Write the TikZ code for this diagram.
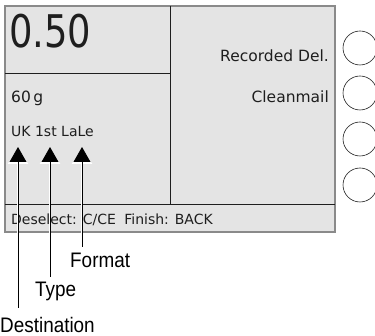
\documentclass[tikz,border=0pt]{standalone}
\usepackage{fontspec}
\setmainfont{DejaVu Sans}
\newfontfamily\labelfont[FakeStretch=0.9]{Liberation Sans}
\usetikzlibrary{arrows.meta,positioning}
\definecolor{panel}{HTML}{E4E4E4}
\definecolor{frame}{HTML}{8A8A8A}
\definecolor{ink}{HTML}{1E1E1E}

\begin{document}
\begin{tikzpicture}[
  x=1pt, y=-1pt,
  every node/.style={inner sep=0pt, text=ink},
  divider/.style={draw=ink, line width=0.9pt},
  key/.style={draw=ink, circle, line width=0.6pt, minimum size=34pt},
  display/.style={font=\fontsize{15.5}{18}\selectfont},
  callout/.style={font=\labelfont\fontsize{21}{24}\selectfont, text=black},
  pointer/.style={-{Triangle[width=17pt,length=15pt]}, line width=0.8pt,
    preaction={draw=white, line width=2.6pt, -{Triangle[width=20pt,length=17pt]}}}
]
  \useasboundingbox (0,0) rectangle (375,336);
  % display panel
  \filldraw[fill=panel, draw=frame, line width=1.4pt] (5,6) rectangle (335,232);
  \draw[divider] (170,6) -- (170,204);
  \draw[divider] (5,73) -- (170,73);
  \draw[divider] (5,204) -- (335,204);
  \node[anchor=base west, font=\fontsize{45}{48}\selectfont] (price) at (9,48)
    {\scalebox{0.82}[1]{0.50}};
  \node[display, anchor=base east] (recorded) at (329,62) {Recorded Del.};
  \node[display, anchor=base east] (clean) at (329,103) {Cleanmail};
  \node[display, anchor=base west] (weight) at (11,103) {60\,g};
  \node[anchor=base west, font=\fontsize{14}{17}\selectfont] (service) at (11,137) {UK 1st LaLe};
  \node[anchor=base west, font=\fontsize{14}{17}\selectfont] (status) at (11,225)
    {Deselect: C/CE\hspace{0.6em}Finish: BACK};
  % soft keys
  \foreach \y [count=\i] in {48,93,139,185}
    \node[key] (key\i) at (360,\y) {};
  % callouts
  \node[callout, anchor=base west] (format) at (70,268) {Format};
  \node[callout, anchor=base west] (type) at (35,297) {Type};
  \node[callout, anchor=base west] (dest) at (0,333) {Destination};
  \coordinate (formatend) at (82,247);
  \coordinate (typeend) at (50,277);
  \coordinate (destend) at (18,308);
  \coordinate (formattip) at (82,147);
  \coordinate (typetip) at (50,147);
  \coordinate (desttip) at (18,147);
  \draw[pointer] (formatend) -- (formattip);
  \draw[pointer] (typeend) -- (typetip);
  \draw[pointer] (destend) -- (desttip);
\end{tikzpicture}
\end{document}
